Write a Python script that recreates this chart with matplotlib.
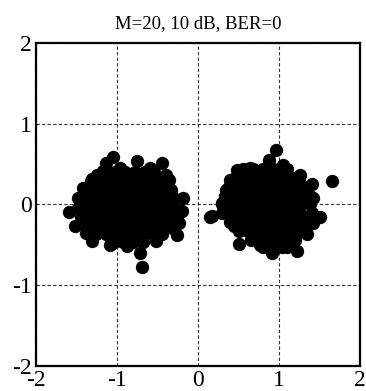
import matplotlib.pyplot as plt

# symbols: outer points of each cloud
left_x = [-1.05, -1.13, -0.75, -0.44, -0.39, -0.33, -0.18, -0.20, -0.24, -0.26,
          -0.52, -0.72, -0.69, -0.88, -1.09, -1.31, -1.52, -1.59, -1.48, -1.42,
          -1.31, -1.17, -0.96, -0.59, -1.38, -1.25, -0.36, -0.30]
left_y = [0.59, 0.52, 0.54, 0.52, 0.37, 0.18, 0.085, -0.08, -0.23, -0.38,
          -0.45, -0.60, -0.77, -0.52, -0.50, -0.45, -0.27, -0.09, 0.08, 0.20,
          0.32, 0.41, 0.45, 0.45, -0.35, 0.37, 0.30, -0.30]
right_x = [0.15, 0.96, 0.87, 1.65, 0.48, 0.64, 1.26, 1.40, 1.42, 1.51, 1.42,
           1.22, 0.91, 0.77, 0.50, 0.44, 0.17, 0.29, 0.35, 0.40, 1.05, 1.34]
right_y = [-0.15, 0.67, 0.55, 0.29, 0.43, 0.45, 0.37, 0.26, 0.08, -0.15, -0.23,
           -0.58, -0.60, -0.50, -0.49, -0.27, -0.14, 0.015, 0.18, 0.30, 0.49, -0.36]

# dense core of each cloud, row by row (y of row, x positions in row)
left_rows = {
    0.40: [-1.14, -1.02, -0.90, -0.78, -0.66, -0.54],
    0.29: [-1.32, -1.20, -1.08, -0.96, -0.84, -0.72, -0.60, -0.48, -0.40],
    0.18: [-1.40, -1.28, -1.16, -1.04, -0.92, -0.80, -0.68, -0.56, -0.44, -0.34],
    0.07: [-1.46, -1.34, -1.22, -1.10, -0.98, -0.86, -0.74, -0.62, -0.50, -0.38, -0.28],
    -0.04: [-1.48, -1.36, -1.24, -1.12, -1.00, -0.88, -0.76, -0.64, -0.52, -0.40, -0.28],
    -0.15: [-1.44, -1.32, -1.20, -1.08, -0.96, -0.84, -0.72, -0.60, -0.48, -0.36, -0.26],
    -0.26: [-1.40, -1.28, -1.16, -1.04, -0.92, -0.80, -0.68, -0.56, -0.44, -0.34],
    -0.37: [-1.26, -1.14, -1.02, -0.90, -0.78, -0.66, -0.54, -0.44],
    -0.46: [-1.04, -0.92, -0.80, -0.68],
}
right_rows = {
    0.44: [0.56, 0.68, 0.80, 0.92, 1.04, 1.10],
    0.33: [0.46, 0.58, 0.70, 0.82, 0.94, 1.06, 1.18, 1.25],
    0.22: [0.38, 0.50, 0.62, 0.74, 0.86, 0.98, 1.10, 1.22, 1.34],
    0.11: [0.33, 0.45, 0.57, 0.69, 0.81, 0.93, 1.05, 1.17, 1.29, 1.38],
    0.00: [0.30, 0.42, 0.54, 0.66, 0.78, 0.90, 1.02, 1.14, 1.26, 1.38],
    -0.11: [0.30, 0.42, 0.54, 0.66, 0.78, 0.90, 1.02, 1.14, 1.26, 1.40],
    -0.22: [0.40, 0.52, 0.64, 0.76, 0.88, 1.00, 1.12, 1.24, 1.35],
    -0.33: [0.50, 0.62, 0.74, 0.86, 0.98, 1.10, 1.22, 1.28],
    -0.44: [0.65, 0.77, 0.89, 1.01, 1.13, 1.20],
    -0.53: [0.80, 0.92, 1.04, 1.10],
}

title = "M=20, 10 dB, BER=0"
ticks = [-2, -1, 0, 1, 2]

plt.rcParams['font.family'] = ['Liberation Serif', 'DejaVu Serif']

fig = plt.figure(figsize=(3.66, 3.91), dpi=100)
ax = fig.add_axes([0.098, 0.064, 0.886, 0.826])

xs = left_x + right_x
ys = left_y + right_y
for rows in (left_rows, right_rows):
    for y, row in rows.items():
        xs += row
        ys += [y] * len(row)

ax.plot(xs, ys, 'o', color='black', markersize=9.6, markeredgewidth=0)

ax.set_xlim(-2, 2)
ax.set_ylim(-2, 2)
ax.set_xticks(ticks)
ax.set_yticks(ticks)
ax.set_xticklabels([str(t) for t in ticks])
ax.set_yticklabels([str(t) for t in ticks])
ax.tick_params(length=0, labelsize=17)
ax.tick_params(axis='y', pad=3)
ax.tick_params(axis='x', pad=3)
ax.grid(True, color='black', linestyle=(0, (3, 2)), linewidth=0.8, alpha=0.8)
ax.set_axisbelow(True)
for s in ax.spines.values():
    s.set_linewidth(1.6)
ax.set_title(title, fontsize=13.5, pad=11)

fig.savefig('out.png', dpi=100)
